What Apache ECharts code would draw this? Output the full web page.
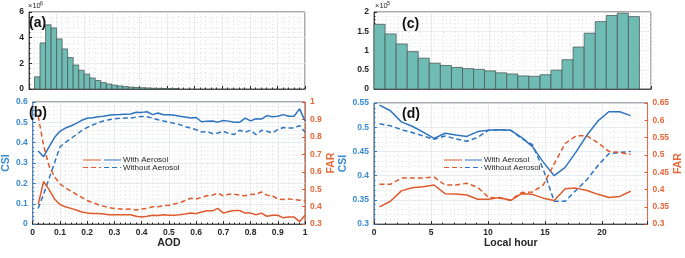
<!DOCTYPE html>
<html>
<head>
<meta charset="utf-8">
<script src="https://cdn.jsdelivr.net/npm/echarts@6/dist/echarts.min.js"></script>
<style>
  html, body { margin: 0; padding: 0; background: #fff; }
  #main { width: 685px; height: 258px; }
</style>
</head>
<body>
<div id="main"></div>
<script>
// (a) AOD histogram, counts in units of 1e6
var aodEdges = [0.02, 0.04, 0.06, 0.08, 0.10, 0.12, 0.14, 0.16, 0.18, 0.20, 0.22, 0.24, 0.26, 0.28,
    0.30, 0.32, 0.34, 0.36, 0.38, 0.40, 0.42, 0.44, 0.46, 0.48, 0.50, 0.52, 0.54];
var aodCounts = [0.95, 3.59, 5.0, 4.76, 3.9, 3.12, 2.45, 1.87, 1.46, 1.16, 0.86, 0.66, 0.5, 0.39,
    0.3, 0.24, 0.19, 0.15, 0.12, 0.1, 0.08, 0.06, 0.05, 0.04, 0.03, 0.03];

// (b) CSI / FAR against AOD
var aodPoints = [0.02, 0.04, 0.06, 0.08, 0.10, 0.12, 0.14, 0.16, 0.18, 0.20,
    0.22, 0.24, 0.26, 0.28, 0.30, 0.32, 0.34, 0.36, 0.38, 0.40,
    0.42, 0.44, 0.46, 0.48, 0.50, 0.52, 0.54, 0.56, 0.58, 0.60,
    0.62, 0.64, 0.66, 0.68, 0.70, 0.72, 0.74, 0.76, 0.78, 0.80,
    0.82, 0.84, 0.86, 0.88, 0.90, 0.92, 0.94, 0.96, 0.98, 1.00];
var csiWithAod = [0.359, 0.331, 0.379, 0.425, 0.456, 0.472, 0.482, 0.495, 0.51, 0.52,
    0.523, 0.527, 0.53, 0.535, 0.537, 0.538, 0.54, 0.541, 0.55, 0.549,
    0.552, 0.538, 0.546, 0.537, 0.537, 0.535, 0.53, 0.526, 0.521, 0.524,
    0.503, 0.506, 0.507, 0.501, 0.509, 0.506, 0.501, 0.5, 0.521, 0.507,
    0.518, 0.516, 0.533, 0.527, 0.53, 0.538, 0.53, 0.53, 0.566, 0.507];
var csiWithoutAod = [0.077, 0.147, 0.224, 0.30, 0.379, 0.402, 0.42, 0.44, 0.459, 0.475,
    0.487, 0.498, 0.507, 0.513, 0.518, 0.52, 0.521, 0.521, 0.526, 0.529,
    0.527, 0.521, 0.513, 0.507, 0.501, 0.495, 0.489, 0.479, 0.472, 0.464,
    0.452, 0.455, 0.445, 0.448, 0.456, 0.445, 0.44, 0.461, 0.452, 0.461,
    0.44, 0.461, 0.456, 0.448, 0.464, 0.475, 0.472, 0.472, 0.484, 0.452];
var farWithAod = [0.412, 0.544, 0.498, 0.444, 0.412, 0.399, 0.39, 0.381, 0.369, 0.363,
    0.361, 0.361, 0.358, 0.354, 0.354, 0.354, 0.354, 0.354, 0.345, 0.341,
    0.345, 0.351, 0.349, 0.354, 0.351, 0.351, 0.354, 0.358, 0.363, 0.36,
    0.369, 0.376, 0.376, 0.39, 0.363, 0.372, 0.378, 0.378, 0.363, 0.363,
    0.354, 0.363, 0.345, 0.351, 0.351, 0.336, 0.341, 0.34, 0.314, 0.351];
var farWithoutAod = [0.92, 0.751, 0.634, 0.571, 0.531, 0.507, 0.489, 0.471, 0.453, 0.435,
    0.423, 0.412, 0.403, 0.394, 0.39, 0.387, 0.385, 0.387, 0.381, 0.387,
    0.39, 0.399, 0.399, 0.405, 0.408, 0.415, 0.423, 0.435, 0.448, 0.444,
    0.453, 0.462, 0.466, 0.477, 0.462, 0.471, 0.471, 0.466, 0.462, 0.47,
    0.471, 0.484, 0.466, 0.462, 0.444, 0.441, 0.444, 0.441, 0.437, 0.435];

// (c) local hour histogram, counts in units of 1e5
var hourEdges = [0, 0.96, 1.92, 2.88, 3.83, 4.79, 5.75, 6.71, 7.67, 8.63, 9.58, 10.54, 11.5,
    12.46, 13.42, 14.38, 15.33, 16.29, 17.25, 18.21, 19.17, 20.13, 21.08, 22.04, 23];
var hourCounts = [1.68, 1.43, 1.17, 0.97, 0.80, 0.67, 0.61, 0.56, 0.53, 0.51, 0.47, 0.42,
    0.39, 0.34, 0.33, 0.37, 0.49, 0.76, 1.09, 1.45, 1.75, 1.91, 1.97, 1.88];

// (d) CSI / FAR against local hour
var hourPoints = [0.48, 1.44, 2.40, 3.35, 4.31, 5.27, 6.23, 7.19, 8.15, 9.10, 10.06, 11.02,
    11.98, 12.94, 13.90, 14.85, 15.81, 16.77, 17.73, 18.69, 19.65, 20.60, 21.56, 22.52];
var csiWithHour = [0.5455, 0.534, 0.511, 0.502, 0.49, 0.477, 0.4875, 0.484, 0.481, 0.491, 0.494, 0.495,
    0.494, 0.479, 0.46, 0.428, 0.40, 0.417, 0.449, 0.484, 0.513, 0.532, 0.532, 0.524];
var csiWithoutHour = [0.507, 0.503, 0.495, 0.489, 0.482, 0.475, 0.482, 0.476, 0.471, 0.479, 0.494, 0.495,
    0.494, 0.477, 0.464, 0.413, 0.347, 0.347, 0.37, 0.392, 0.421, 0.445, 0.448, 0.45];
var farWithHour = [0.35, 0.366, 0.396, 0.405, 0.408, 0.413, 0.388, 0.387, 0.384, 0.372, 0.372, 0.377,
    0.368, 0.388, 0.386, 0.375, 0.368, 0.402, 0.404, 0.397, 0.386, 0.377, 0.38, 0.395];
var farWithoutHour = [0.415, 0.415, 0.433, 0.433, 0.433, 0.436, 0.413, 0.413, 0.418, 0.406, 0.377, 0.375,
    0.37, 0.391, 0.393, 0.413, 0.474, 0.533, 0.555, 0.555, 0.535, 0.51, 0.507, 0.501];

var legendNames = ['With Aerosol', 'Without Aerosol'];

var BLUE = '#2f74c0';
var ORANGE = '#df5a2c';
var BLUE_TXT = '#3a8ad3';
var ORANGE_TXT = '#e4683a';
var DARK = '#262626';
var BAR_FILL = '#6fbcb5';
var BAR_EDGE = '#4f5c5b';

var chart = echarts.init(document.getElementById('main'));

function pairs(xs, ys) {
    return xs.map(function (x, i) { return [x, ys[i]]; });
}
function bins(edges, counts) {
    return counts.map(function (c, i) { return [edges[i], edges[i + 1], c]; });
}
function histItem(params, api) {
    var p0 = api.coord([api.value(0), api.value(2)]);
    var p1 = api.coord([api.value(1), 0]);
    return {
        type: 'rect',
        shape: { x: p0[0], y: p0[1], width: p1[0] - p0[0], height: p1[1] - p0[1] },
        style: { fill: BAR_FILL, stroke: BAR_EDGE, lineWidth: 0.8 }
    };
}

var minorDot = { show: true, lineStyle: { color: '#dddddd', type: [1, 3], width: 0.8 } };
var majorGrid = { show: true, lineStyle: { color: '#e6e6e6', width: 0.8 } };
var majorGridBlue = { show: true, lineStyle: { color: '#d9e7f3', width: 0.8 } };
var labelFont = { fontFamily: 'Liberation Sans', fontWeight: 'bold', fontSize: 8.5 };

function xAxis(gridIndex, max, interval, showLabel, name) {
    return {
        type: 'value', gridIndex: gridIndex, min: 0, max: max, interval: interval,
        name: name || '', nameLocation: 'middle', nameGap: 14,
        nameTextStyle: { color: DARK, fontFamily: 'Liberation Sans', fontWeight: 'bold', fontSize: 10.5 },
        axisLine: { show: true, onZero: false, lineStyle: { color: DARK, width: 0.8 } },
        axisTick: { show: true, inside: true, length: 3, lineStyle: { color: DARK } },
        minorTick: { show: true, splitNumber: 5, length: 1.5, lineStyle: { color: DARK } },
        axisLabel: Object.assign({ show: showLabel, color: DARK, margin: 4, showMaxLabel: max === 1 }, labelFont),
        splitLine: majorGrid,
        minorSplitLine: minorDot
    };
}
function yAxis(gridIndex, pos, min, max, interval, color, txtColor, name, nameGap, grid) {
    return {
        type: 'value', gridIndex: gridIndex, position: pos, min: min, max: max, interval: interval,
        name: name || '', nameLocation: 'middle', nameGap: nameGap || 0, nameRotate: 90,
        nameTextStyle: { color: txtColor, fontFamily: 'Liberation Sans', fontWeight: 'bold', fontSize: 10.5 },
        axisLine: { show: true, lineStyle: { color: color, width: 0.8 } },
        axisTick: { show: true, inside: true, length: 3, lineStyle: { color: color } },
        minorTick: { show: grid, splitNumber: 5, length: 1.5, lineStyle: { color: color } },
        axisLabel: Object.assign({ color: txtColor, margin: 5 }, labelFont),
        splitLine: grid ? (grid === 'blue' ? majorGridBlue : majorGrid) : { show: false },
        minorSplitLine: grid ? minorDot : { show: false }
    };
}
function lineSeries(xi, yi, xs, ys, color, dashed) {
    return {
        type: 'line', xAxisIndex: xi, yAxisIndex: yi, data: pairs(xs, ys),
        symbol: 'none', smooth: false, z: 5,
        lineStyle: { color: color, width: 1.5, type: dashed ? [5, 3] : 'solid' }
    };
}
function legendBlock(x, y) {
    var els = [];
    [0, 1].forEach(function (i) {
        var yy = y + i * 7.5;
        var dash = i === 1 ? [5, 3] : null;
        els.push({ type: 'line', shape: { x1: x, y1: yy, x2: x + 18, y2: yy },
            style: { stroke: ORANGE, lineWidth: 1, lineDash: dash }, z: 20 });
        els.push({ type: 'line', shape: { x1: x + 21, y1: yy, x2: x + 38, y2: yy },
            style: { stroke: BLUE, lineWidth: 1, lineDash: dash }, z: 20 });
        els.push({ type: 'text', x: x + 40, y: yy, z: 20,
            style: { text: legendNames[i], fill: DARK, font: '8px "Liberation Sans"', verticalAlign: 'middle' } });
    });
    return els;
}
function panelLabel(txt, x, y) {
    return { type: 'text', x: x, y: y, z: 20,
        style: { text: txt, fill: '#111', font: 'bold 14px "Liberation Sans"' } };
}
function expLabel(exp, x, y) {
    return [
        { type: 'text', x: x, y: y + 1, z: 20, style: { text: '×10', fill: DARK, font: '7.5px "Liberation Sans"' } },
        { type: 'text', x: x + 12, y: y - 1, z: 20, style: { text: exp, fill: DARK, font: '5.5px "Liberation Sans"' } }
    ];
}

var option = {
    animation: false,
    backgroundColor: '#fff',
    grid: [
        { left: 29, top: 12, width: 276, height: 77, show: true, borderColor: DARK, borderWidth: 0.8, backgroundColor: '#fff' },
        { left: 29, top: 102, width: 276, height: 130, show: true, borderColor: DARK, borderWidth: 0.8, backgroundColor: '#fff' },
        { left: 374, top: 12, width: 277, height: 77, show: true, borderColor: DARK, borderWidth: 0.8, backgroundColor: '#fff' },
        { left: 374, top: 103, width: 277, height: 130, show: true, borderColor: DARK, borderWidth: 0.8, backgroundColor: '#fff' }
    ],
    xAxis: [
        xAxis(0, 1, 0.1, false),
        xAxis(1, 1, 0.1, true, 'AOD'),
        xAxis(2, 24, 5, false),
        xAxis(3, 24, 5, true, 'Local hour')
    ],
    yAxis: [
        yAxis(0, 'left', 0, 6, 2, DARK, DARK, '', 0, 'gray'),
        yAxis(1, 'left', 0, 0.6, 0.1, BLUE, BLUE_TXT, 'CSI', 17, 'blue'),
        yAxis(1, 'right', 0.3, 1, 0.1, ORANGE, ORANGE_TXT, 'FAR', 15, false),
        yAxis(2, 'left', 0, 2, 0.5, DARK, DARK, '', 0, 'gray'),
        yAxis(3, 'left', 0.3, 0.55, 0.05, BLUE, BLUE_TXT, 'CSI', 20, 'blue'),
        yAxis(3, 'right', 0.3, 0.65, 0.05, ORANGE, ORANGE_TXT, 'FAR', 20, false)
    ],
    series: [
        { type: 'custom', xAxisIndex: 0, yAxisIndex: 0, renderItem: histItem,
          encode: { x: [0, 1], y: 2 }, data: bins(aodEdges, aodCounts) },
        { type: 'custom', xAxisIndex: 2, yAxisIndex: 3, renderItem: histItem,
          encode: { x: [0, 1], y: 2 }, data: bins(hourEdges, hourCounts) },

        lineSeries(1, 1, aodPoints, csiWithAod, BLUE, false),
        lineSeries(1, 1, aodPoints, csiWithoutAod, BLUE, true),
        lineSeries(1, 2, aodPoints, farWithAod, ORANGE, false),
        lineSeries(1, 2, aodPoints, farWithoutAod, ORANGE, true),

        lineSeries(3, 4, hourPoints, csiWithHour, BLUE, false),
        lineSeries(3, 4, hourPoints, csiWithoutHour, BLUE, true),
        lineSeries(3, 5, hourPoints, farWithHour, ORANGE, false),
        lineSeries(3, 5, hourPoints, farWithoutHour, ORANGE, true)
    ],
    graphic: [].concat(
        [panelLabel('(a)', 29, 16), panelLabel('(b)', 29, 106), panelLabel('(c)', 402, 17), panelLabel('(d)', 402, 107)],
        expLabel('6', 28, 1),
        expLabel('5', 375, 1),
        legendBlock(83, 160),
        legendBlock(444, 160)
    )
};

chart.setOption(option);
</script>
</body>
</html>
